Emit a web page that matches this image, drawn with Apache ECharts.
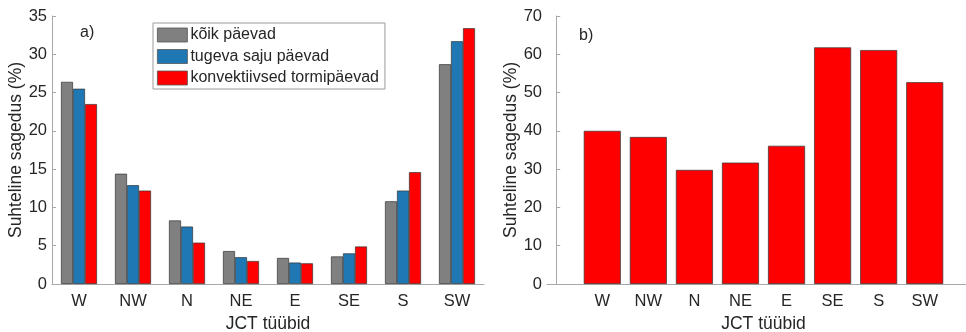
<!DOCTYPE html>
<html>
<head>
<meta charset="utf-8">
<script src="https://cdn.jsdelivr.net/npm/echarts@6/dist/echarts.min.js"></script>
<style>
  html, body { margin: 0; padding: 0; background: #fff; }
  #chart { width: 966px; height: 332px; }
</style>
</head>
<body>
<div id="chart"></div>
<script>
// JCT circulation types
const categories = ['W', 'NW', 'N', 'NE', 'E', 'SE', 'S', 'SW'];

// Panel a) relative frequency (%) of each type
const allDays = [26.4, 14.4, 8.3, 4.3, 3.4, 3.6, 10.8, 28.7];
const heavyPrecipDays = [25.5, 12.9, 7.5, 3.5, 2.8, 4.0, 12.2, 31.7];
const convectiveStormDays = [23.5, 12.2, 5.4, 3.0, 2.7, 4.9, 14.6, 33.4];

// Panel b) relative frequency (%)
const panelB = [40.0, 38.4, 29.8, 31.7, 36.1, 61.8, 61.1, 52.7];

const yTicksA = { min: 0, max: 35, interval: 5 };
const yTicksB = { min: 0, max: 70, interval: 10 };

const seriesNames = ['kõik päevad', 'tugeva saju päevad', 'konvektiivsed tormipäevad'];
const seriesColors = ['#808080', '#1f77b4', '#ff0000'];

const textColor = '#262626';
const axisColor = '#a8a8a8';
const font = 'Liberation Sans, Arial, Helvetica, sans-serif';

const chart = echarts.init(document.getElementById('chart'), null, { renderer: 'canvas' });

function yAxisFor(gridIndex, ticks) {
  return {
    type: 'value',
    gridIndex,
    min: ticks.min,
    max: ticks.max,
    interval: ticks.interval,
    name: 'Suhteline sagedus (%)',
    nameLocation: 'middle',
    nameGap: 26,
    nameTextStyle: { color: textColor, fontSize: 17.5, fontFamily: font },
    axisLine: { show: true, lineStyle: { color: axisColor, width: 1 } },
    axisTick: { show: true, inside: true, length: 4, lineStyle: { color: axisColor } },
    axisLabel: { color: textColor, fontSize: 16.5, fontFamily: font, margin: 5 },
    splitLine: { show: false }
  };
}

const barBorder = { borderColor: '#333333', borderWidth: 0.7 };

const groupedSeries = [allDays, heavyPrecipDays, convectiveStormDays].map((vals, i) => ({
  type: 'bar',
  name: seriesNames[i],
  xAxisIndex: 0,
  yAxisIndex: 0,
  data: vals,
  barWidth: 12,
  barGap: '0%',
  itemStyle: Object.assign({ color: seriesColors[i] }, barBorder),
  emphasis: { disabled: true }
}));

const xName = {
  name: 'JCT tüübid',
  nameLocation: 'middle',
  nameGap: 25,
  nameTextStyle: { color: textColor, fontSize: 17.5, fontFamily: font }
};

const option = {
  animation: false,
  backgroundColor: '#ffffff',
  textStyle: { fontFamily: font },
  grid: [
    { left: 52, right: 482, top: 16, bottom: 48, containLabel: false, outerBoundsMode: 'none' },
    { left: 547, right: -14, top: 16, bottom: 48, containLabel: false, outerBoundsMode: 'none' }
  ],
  xAxis: [
    Object.assign({
      type: 'category',
      gridIndex: 0,
      data: categories,
      boundaryGap: true,
      axisLine: { show: true, lineStyle: { color: axisColor, width: 1 } },
      axisTick: { show: false },
      axisLabel: { color: textColor, fontSize: 16.5, fontFamily: font, margin: 9 },
      splitLine: { show: false }
    }, xName),
    Object.assign({
      type: 'value',
      gridIndex: 1,
      min: -0.2,
      max: 9.2,
      axisLine: { show: true, onZero: false, lineStyle: { color: axisColor, width: 1 } },
      axisTick: { show: false },
      axisLabel: {
        color: textColor, fontSize: 16.5, fontFamily: font, margin: 9,
        customValues: categories.map((c, i) => i + 1),
        formatter: (v) => categories[Math.round(v) - 1] || ''
      },
      splitLine: { show: false }
    }, xName)
  ],
  yAxis: [yAxisFor(0, yTicksA), yAxisFor(1, yTicksB)],
  legend: {
    data: seriesNames,
    orient: 'vertical',
    left: 153,
    top: 23,
    itemWidth: 30,
    itemHeight: 14,
    itemGap: 5.5,
    padding: [4, 6, 3, 4],
    borderColor: '#9a9a9a',
    borderWidth: 1,
    backgroundColor: '#ffffff',
    icon: 'rect',
    selectedMode: false,
    itemStyle: { borderColor: '#555555', borderWidth: 0.8 },
    textStyle: { color: textColor, fontSize: 16, fontFamily: font, padding: [0, 0, 0, -2] }
  },
  graphic: [
    { type: 'text', left: 80, top: 25, style: { text: 'a)', fill: textColor, font: '16px ' + font } },
    { type: 'text', left: 579, top: 28, style: { text: 'b)', fill: textColor, font: '16px ' + font } }
  ],
  series: groupedSeries.concat([
    {
      type: 'bar',
      name: 'b',
      xAxisIndex: 1,
      yAxisIndex: 1,
      data: panelB.map((v, i) => [i + 1, v]),
      barWidth: 37,
      itemStyle: Object.assign({ color: '#ff0000' }, barBorder),
      emphasis: { disabled: true }
    }
  ])
};

chart.setOption(option);
</script>
</body>
</html>
